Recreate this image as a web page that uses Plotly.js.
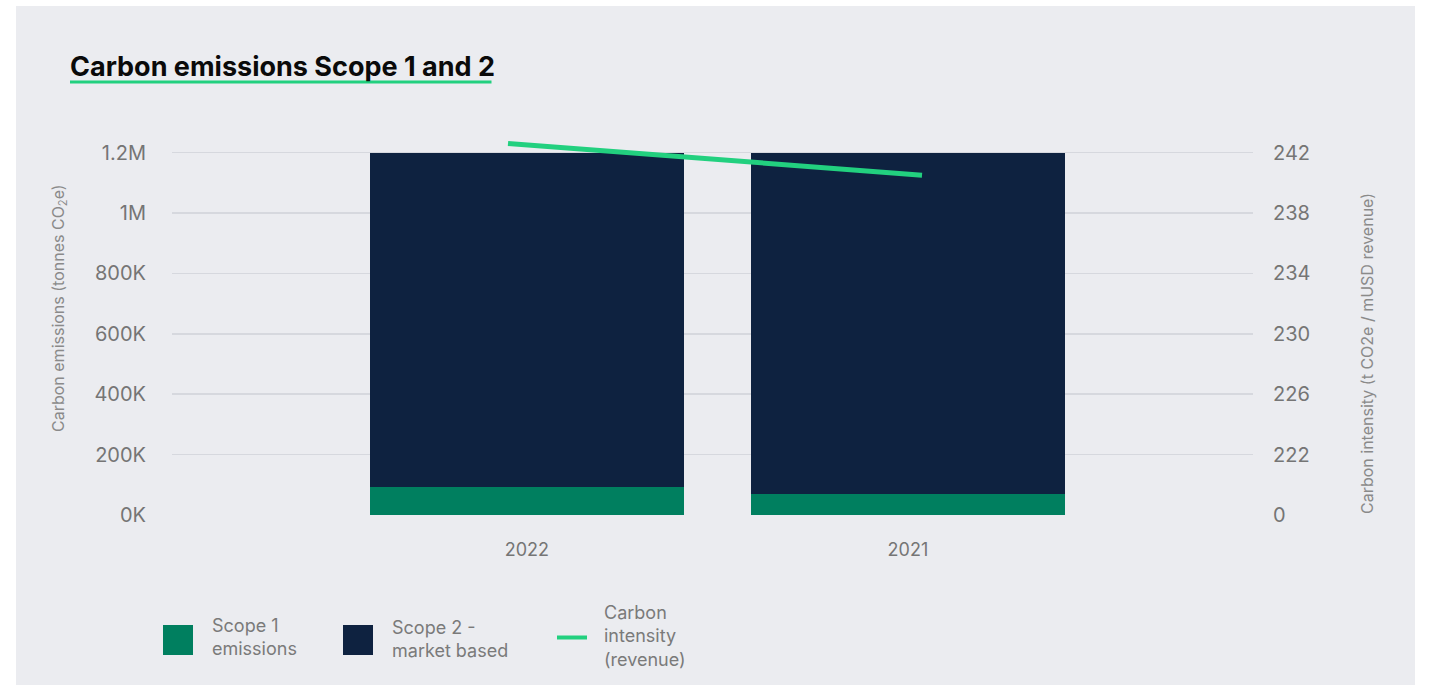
<!DOCTYPE html>
<html>
<head>
<meta charset="utf-8">
<script src="https://cdn.plot.ly/plotly-3.0.1.min.js"></script>
<style>
  html, body { margin: 0; padding: 0; background: #ffffff; width: 1429px; height: 685px; overflow: hidden; }
  #chart { position: absolute; left: 16px; top: 6px; width: 1399px; height: 679px; }
</style>
</head>
<body>
<div id="chart"></div>
<script>
// ---- data ----
const categories = ['2022', '2021'];
const scope1 = [92000, 70000];
const scope2 = [1106000, 1128000];
const intensity = [242.6, 240.5];
const seriesNames = ['Scope 1<br>emissions', 'Scope 2 -<br>market based', 'Carbon<br>intensity<br>(revenue)'];
const leftTickVals = [0, 200000, 400000, 600000, 800000, 1000000, 1200000];
const leftTickText = ['0K', '200K', '400K', '600K', '800K', '1M', '1.2M'];
const rightTickVals = [218, 222, 226, 230, 234, 238, 242];
const rightTickText = ['0', '222', '226', '230', '234', '238', '242'];

// ---- style ----
const BG = '#ebecf0';
const C1 = '#007f5f';
const C2 = '#0e2240';
const CL = '#22d07f';
const TICK = '#757575';
const FONT = 'Inter, "Noto Sans", sans-serif';

// page pixel -> paper helpers (plot area in page coords)
const PL = 172, PR = 1253, PT = 137, PB = 515;
const px = x => (x - PL) / (PR - PL);
const py = y => (PB - y) / (PB - PT);

const traces = [
  { type: 'bar', x: categories, y: scope1, name: seriesNames[0], marker: { color: C1 }, width: 0.823, hoverinfo: 'y' },
  { type: 'bar', x: categories, y: scope2, name: seriesNames[1], marker: { color: C2 }, width: 0.823, hoverinfo: 'y' },
  { type: 'scatter', mode: 'lines', x: categories, y: intensity, name: seriesNames[2], xaxis: 'x2', yaxis: 'y2',
    line: { color: CL, width: 5 } }
];

const legendShapes = [
  { type: 'rect', xref: 'paper', yref: 'paper', x0: px(163), x1: px(193), y0: py(655), y1: py(625), fillcolor: C1, line: { width: 0 } },
  { type: 'rect', xref: 'paper', yref: 'paper', x0: px(343), x1: px(373), y0: py(655), y1: py(625), fillcolor: C2, line: { width: 0 } },
  { type: 'line', xref: 'paper', yref: 'paper', x0: px(557), x1: px(587), y0: py(637.5), y1: py(637.5), line: { color: CL, width: 4 } },
  // title underline
  { type: 'line', xref: 'paper', yref: 'paper', x0: px(70), x1: px(491.5), y0: py(82), y1: py(82), line: { color: CL, width: 3 } }
];

const legendFont = { family: FONT, size: 18, color: '#7a7a7a' };
const axisTitleFont = { family: FONT, size: 16, color: '#8a8a8a' };
const annotations = [
  { xref: 'paper', yref: 'paper', x: px(210), y: py(637), xanchor: 'left', yanchor: 'middle', align: 'left', showarrow: false, text: seriesNames[0], font: legendFont },
  { xref: 'paper', yref: 'paper', x: px(390), y: py(639), xanchor: 'left', yanchor: 'middle', align: 'left', showarrow: false, text: seriesNames[1], font: legendFont },
  { xref: 'paper', yref: 'paper', x: px(602), y: py(636), xanchor: 'left', yanchor: 'middle', align: 'left', showarrow: false, text: seriesNames[2], font: legendFont },
  { xref: 'paper', yref: 'paper', x: px(59), y: py(308), xanchor: 'center', yanchor: 'middle', textangle: -90, showarrow: false,
    text: 'Carbon emissions (tonnes CO<sub>2</sub>e)', font: axisTitleFont },
  { xref: 'paper', yref: 'paper', x: px(1367), y: py(354), xanchor: 'center', yanchor: 'middle', textangle: -90, showarrow: false,
    text: 'Carbon intensity (t CO2e / mUSD revenue)', font: axisTitleFont }
];

const layout = {
  width: 1399, height: 679,
  paper_bgcolor: BG, plot_bgcolor: BG,
  margin: { l: 156, r: 162, t: 131, b: 170, pad: 0 },
  title: { text: 'Carbon emissions Scope 1 and 2', xref: 'container', yref: 'container', x: 54 / 1399, xanchor: 'left',
           y: 1 - 61 / 679, yanchor: 'middle', font: { family: FONT, size: 27, weight: 700, color: '#0a0a0a' } },
  barmode: 'stack',
  bargap: 0,
  showlegend: false,
  xaxis: { type: 'category', range: [-0.931, 1.9055], showgrid: false, zeroline: false, showline: false, ticks: '',
           tickfont: { family: FONT, size: 18, color: TICK }, ticklabelstandoff: 22, fixedrange: true },
  xaxis2: { type: 'category', overlaying: 'x', range: [-0.8116, 1.7995], visible: false, fixedrange: true },
  yaxis: { range: [0, 1251300], tickvals: leftTickVals, ticktext: leftTickText, showgrid: true, gridcolor: '#d6d8de', gridwidth: 1.5,
           zeroline: false, showline: false, ticks: '', tickfont: { family: FONT, size: 20, color: TICK }, ticklabelstandoff: 25, fixedrange: true },
  yaxis2: { overlaying: 'y', side: 'right', range: [218, 243.03], tickvals: rightTickVals, ticktext: rightTickText, showgrid: false,
            zeroline: false, showline: false, ticks: '', tickfont: { family: FONT, size: 20, color: TICK }, ticklabelstandoff: 19, fixedrange: true },
  shapes: legendShapes,
  annotations: annotations
};

Plotly.newPlot('chart', traces, layout, { displayModeBar: false, staticPlot: true });
</script>
</body>
</html>
